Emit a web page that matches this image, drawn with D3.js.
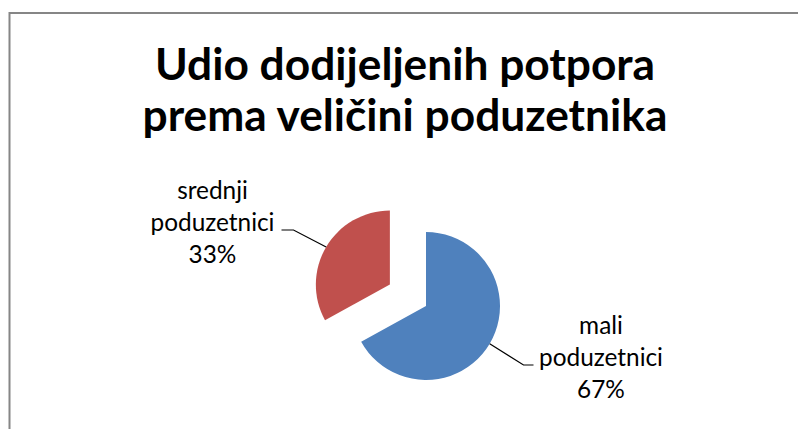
<!DOCTYPE html>
<html>
<head>
<meta charset="utf-8">
<script src="https://cdn.jsdelivr.net/npm/d3@7"></script>
<style>
  html, body { margin: 0; padding: 0; background: #fff; }
  svg { display: block; }
</style>
</head>
<body>
<svg id="chart" width="798" height="429"></svg>
<script>
// ---- data ----
const titleLines = ["Udio dodijeljenih potpora", "prema veličini poduzetnika"];
const categories = ["mali poduzetnici", "srednji poduzetnici"];
const labelLines = [["mali", "poduzetnici"], ["srednji", "poduzetnici"]];
const values = [67, 33];
const colors = ["#4F81BD", "#C0504D"];
const explode = [0, 42];

// ---- layout ----
const svg = d3.select("#chart");
const W = 798, H = 429;
const cx = 426, cy = 306, r = 74;

// border (chart area extends beyond the window on right/bottom)
svg.append("rect")
  .attr("x", 9.5).attr("y", 13).attr("width", 800).attr("height", 430)
  .attr("fill", "#fff").attr("stroke", "#868686").attr("stroke-width", 2);

// title
const titleG = svg.append("g");
const titleFont = "Lato, 'Open Sans', sans-serif";
const tt = titleG.selectAll("text").data(titleLines).join("text")
  .attr("x", 405)
  .attr("y", (d, i) => 79.5 + i * 51)
  .attr("text-anchor", "middle")
  .attr("font-family", titleFont)
  .attr("font-weight", "bold")
  .attr("font-size", 40)
  .attr("fill", "#000")
  .text(d => d);
// fit title to target width
{
  const w = tt.nodes()[1].getComputedTextLength();
  const fs = 40 * 525 / w;
  tt.attr("font-size", fs);
}

// pie
const pie = d3.pie().sort(null).value(d => d)(values);
const arc = d3.arc().innerRadius(0).outerRadius(r);
const midArc = d3.arc().innerRadius(r).outerRadius(r);

const offset = (d, i) => {
  const a = (d.startAngle + d.endAngle) / 2;
  return [Math.sin(a) * explode[i], -Math.cos(a) * explode[i]];
};

const g = svg.append("g").attr("transform", `translate(${cx},${cy})`);
g.selectAll("path.slice").data(pie).join("path")
  .attr("class", "slice")
  .attr("d", arc)
  .attr("fill", (d, i) => colors[i])
  .attr("transform", (d, i) => `translate(${offset(d, i)})`);

// labels: center x, first baseline, leader elbow & end
const labelPos = [
  { x: 601, y: 334, elbow: [523.5, 365], end: [533.5, 365] },
  { x: 212.5, y: 199, elbow: [293.5, 230], end: [281.5, 230] }
];

const lineFont = "Lato, 'Open Sans', sans-serif";
pie.forEach((d, i) => {
  const o = offset(d, i);
  const c = midArc.centroid(d);
  const start = [c[0] + o[0] + cx, c[1] + o[1] + cy];
  const lp = labelPos[i];
  svg.append("path")
    .attr("d", d3.line()([start, lp.elbow, lp.end]))
    .attr("fill", "none").attr("stroke", "#000").attr("stroke-width", 1.2);

  const total = d3.sum(values);
  const lines = labelLines[i].concat([Math.round(values[i] / total * 100) + "%"]);
  svg.append("g").attr("class", "lbl").selectAll("text").data(lines).join("text")
    .attr("x", lp.x)
    .attr("y", (t, j) => lp.y + j * 32)
    .attr("text-anchor", "middle")
    .attr("font-family", lineFont)
    .attr("font-size", 24.5)
    .attr("fill", "#000")
    .text(t => t);
});
// fit label font so that "poduzetnici" is ~124px wide
{
  const all = svg.selectAll("g.lbl text");
  const ref = all.filter(t => t === "poduzetnici").node();
  const w = ref.getComputedTextLength();
  all.attr("font-size", 24.5 * 124 / w);
}
</script>
</body>
</html>
